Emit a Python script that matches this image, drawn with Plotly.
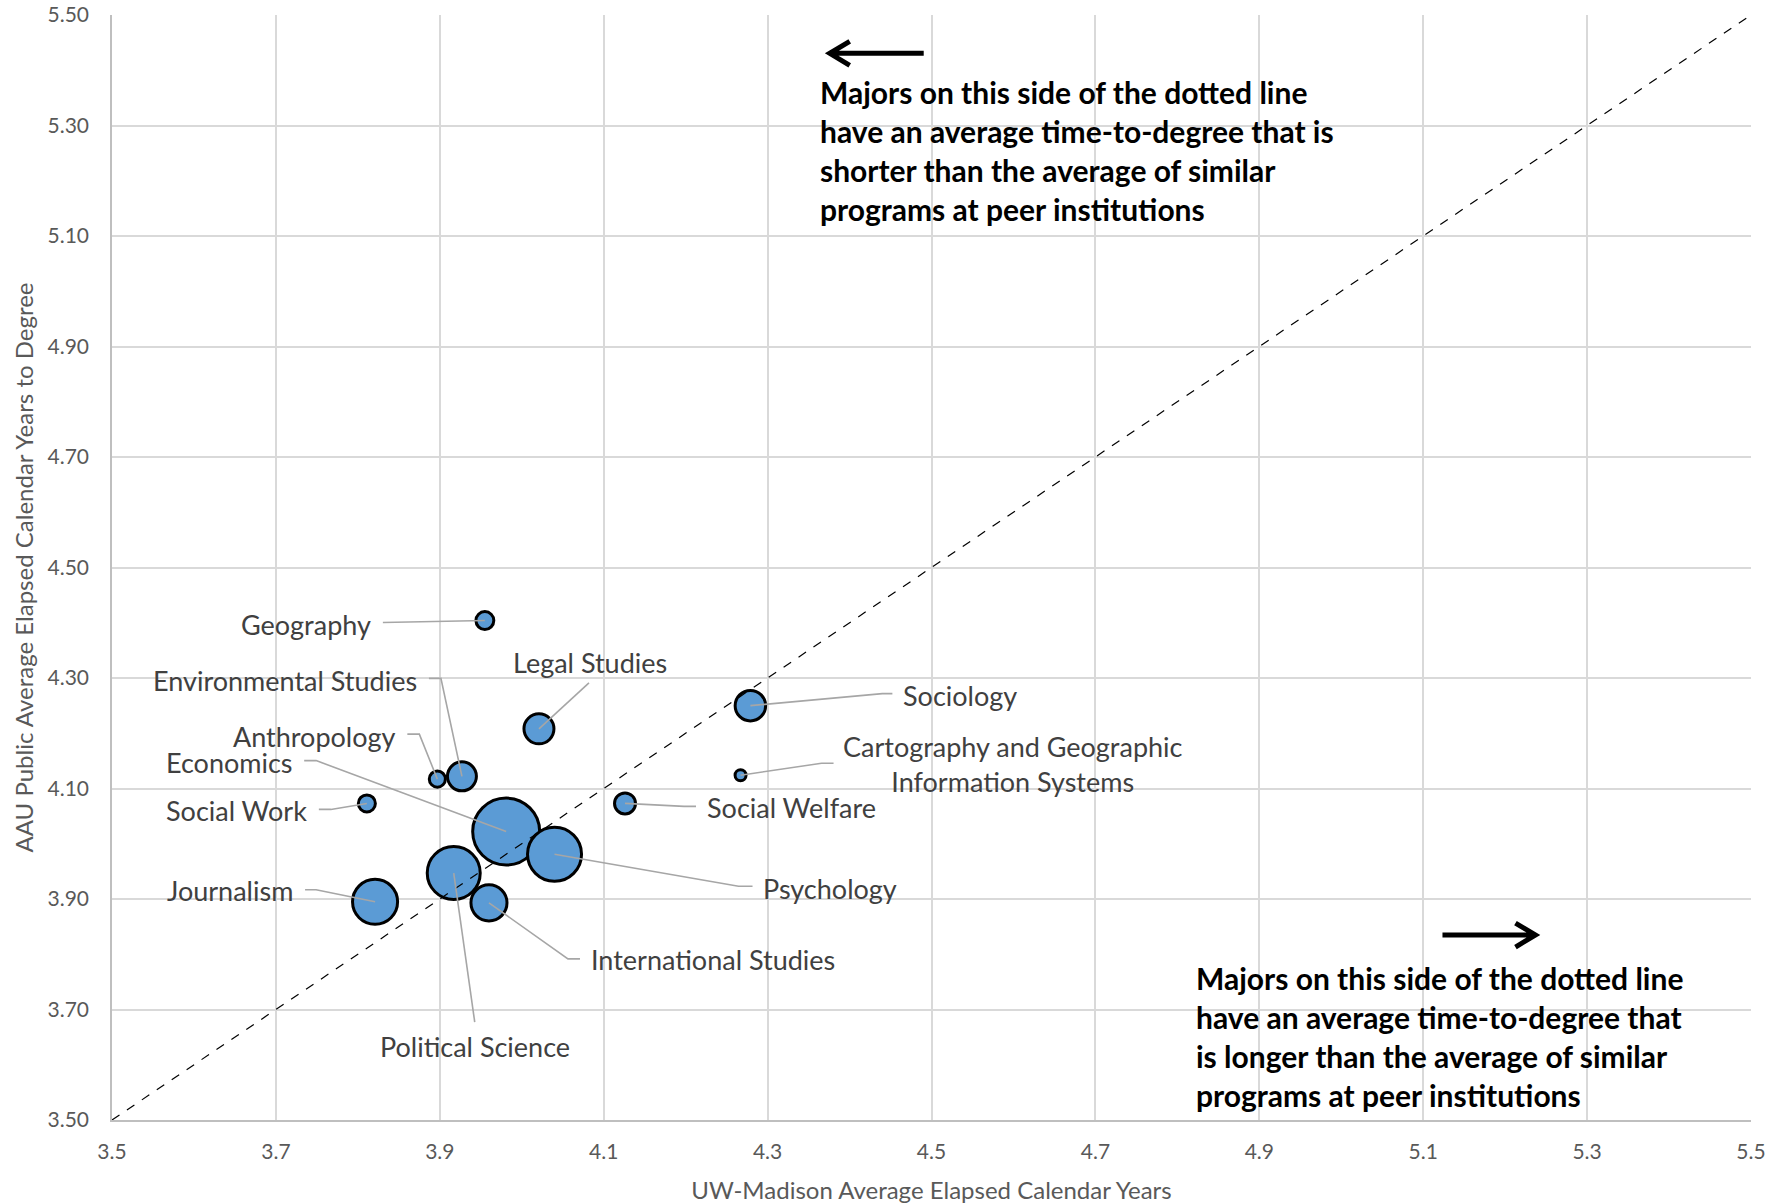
import plotly.graph_objects as go

# ---------------- data ----------------
majors = ["Geography", "Legal Studies", "Anthropology", "Environmental Studies", "Social Work",
          "Economics", "Psychology", "Political Science", "Journalism", "International Studies",
          "Sociology", "Cartography and Geographic<br>Information Systems", "Social Welfare"]
uw_years = [3.955, 4.021, 3.897, 3.927, 3.811, 3.981, 4.040, 3.917, 3.821, 3.960, 4.279, 4.267, 4.126]
aau_years = [4.404, 4.208, 4.117, 4.122, 4.073, 4.022, 3.981, 3.947, 3.895, 3.893, 4.250, 4.124, 4.073]
graduates = [32, 90, 26, 84, 29, 449, 292, 281, 203, 130, 93, 12, 44]
parity = [3.5, 5.5]
x_ticks = [3.5, 3.7, 3.9, 4.1, 4.3, 4.5, 4.7, 4.9, 5.1, 5.3, 5.5]
y_ticks = [3.5, 3.7, 3.9, 4.1, 4.3, 4.5, 4.7, 4.9, 5.1, 5.3, 5.5]

# ---------------- label placement (pixel offsets, down-positive) ----------------
# (text anchor, text dx, text dy, leader path points)
placement = [
    ("right", -112, 4, [(-102, 2), (0, 0)]),
    ("center", 51, -66, [(50, -46), (0, 0)]),
    ("right", -39, -43, [(-30, -45), (-18, -45), (0, 0)]),
    ("right", -43, -96, [(-33, -98), (-21, -98), (0, 0)]),
    ("right", -58, 7, [(-48, 6), (-36, 6), (0, 0)]),
    ("right", -211, -69, [(-202, -71), (-190, -71), (0, 0)]),
    ("left", 206, 34, [(198, 32), (184, 32), (0, 0)]),
    ("center", 21, 173, [(21, 149), (0, 0)]),
    ("right", -80, -11, [(-70, -12), (-59, -12), (0, 0)]),
    ("left", 100, 57, [(91, 56), (79, 56), (0, 0)]),
    ("left", 151, -10, [(142, -12), (132, -12), (0, 0)]),
    ("center", 272, -11, [(93, -12), (81, -12), (0, 0)]),
    ("left", 80, 4, [(71, 3), (59, 3), (0, 0)]),
]

FONT = "Lato"
LABEL_COLOR = "#404040"
AXIS_COLOR = "#595959"
GRID = "#D9D9D9"

fig = go.Figure()

max_size = 67
fig.add_trace(go.Scatter(
    x=uw_years, y=aau_years, mode="markers",
    marker=dict(size=graduates, sizemode="area", sizeref=2 * max(graduates) / max_size ** 2,
                color="#5B9BD5", opacity=1, line=dict(color="black", width=3)),
    hoverinfo="skip", showlegend=False,
))

fig.add_trace(go.Scatter(
    x=parity, y=parity, mode="lines",
    line=dict(color="black", width=1.2, dash="dash"),
    hoverinfo="skip", showlegend=False,
))

shapes = []
annotations = []
for name, xv, yv, (anchor, tdx, tdy, pts) in zip(majors, uw_years, aau_years, placement):
    path = "M " + " L ".join(f"{dx},{-dy}" for dx, dy in pts)
    shapes.append(dict(type="path", xref="x", yref="y", xsizemode="pixel", ysizemode="pixel",
                       xanchor=xv, yanchor=yv, path=path,
                       line=dict(color="#A6A6A6", width=1.6)))
    annotations.append(dict(x=xv, y=yv, xref="x", yref="y", text=name, showarrow=False,
                            xanchor=anchor, yanchor="middle", xshift=tdx, yshift=-tdy,
                            align="center",
                            font=dict(family=FONT, size=27, color=LABEL_COLOR)))

# explanatory notes
annotations.append(dict(
    x=0.4309, y=0.8778, xref="paper", yref="paper", xanchor="left", yanchor="middle", align="left",
    showarrow=False,
    text="<b>Majors on this side of the dotted line<br>have an average time-to-degree that is<br>"
         "shorter than the average of similar<br>programs at peer institutions</b>",
    font=dict(family=FONT, size=30, color="black")))
annotations.append(dict(
    x=0.6604, y=0.0755, xref="paper", yref="paper", xanchor="left", yanchor="middle", align="left",
    showarrow=False,
    text="<b>Majors on this side of the dotted line<br>have an average time-to-degree that<br>"
         "is longer than the average of similar<br>programs at peer institutions</b>",
    font=dict(family=FONT, size=30, color="black")))

# arrows
shapes.append(dict(type="path", xref="paper", yref="paper", xsizemode="pixel", ysizemode="pixel",
                   xanchor=0.4379, yanchor=0.9653,
                   path="M 94,0 L 2,0 M 20,12 L 0,0 L 20,-12",
                   line=dict(color="black", width=5)))
shapes.append(dict(type="path", xref="paper", yref="paper", xsizemode="pixel", ysizemode="pixel",
                   xanchor=0.8685, yanchor=0.1674,
                   path="M -93,0 L -2,0 M -20,12 L 0,0 L -20,-12",
                   line=dict(color="black", width=5)))

axis_common = dict(showgrid=True, gridcolor=GRID, gridwidth=1.5, zeroline=False,
                   showline=True, linecolor="#BFBFBF", linewidth=1.5, mirror=False,
                   automargin=False,
                   ticks="", tickfont=dict(family=FONT, size=21, color=AXIS_COLOR))

fig.update_layout(
    width=1783, height=1204,
    margin=dict(l=112, r=32, t=15, b=84, autoexpand=False),
    paper_bgcolor="white", plot_bgcolor="white",
    xaxis=dict(range=[3.5, 5.5], tickvals=x_ticks, ticktext=[f"{v:.1f}" for v in x_ticks],
               ticklabelstandoff=12,
               title=dict(text="UW-Madison Average Elapsed Calendar Years", standoff=20,
                          font=dict(family=FONT, size=24, color=AXIS_COLOR)),
               **axis_common),
    yaxis=dict(range=[3.5, 5.5], tickvals=y_ticks, ticktext=[f"{v:.2f}" for v in y_ticks],
               ticklabelstandoff=17,
               title=dict(text="AAU Public Average Elapsed Calendar Years to Degree", standoff=7,
                          font=dict(family=FONT, size=24, color=AXIS_COLOR)),
               **axis_common),
    shapes=shapes,
    annotations=annotations,
)

fig.write_html("out.html", config={"displayModeBar": False},
               post_script="document.body.style.margin='0';")
